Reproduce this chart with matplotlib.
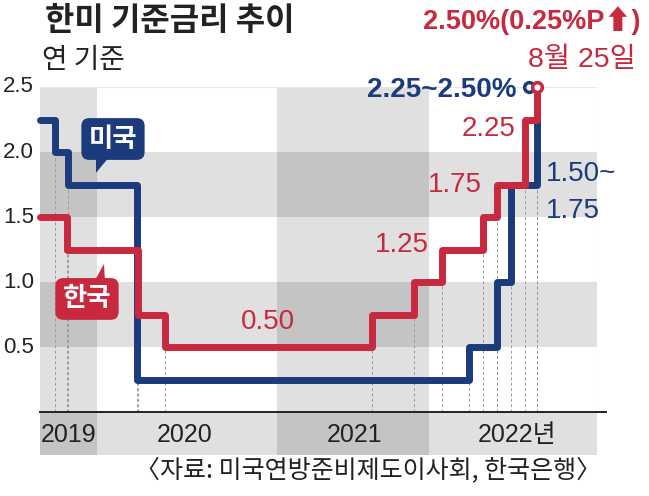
import matplotlib
matplotlib.use('Agg')
import matplotlib.pyplot as plt
from matplotlib import font_manager as fm
from matplotlib.patches import Polygon

# fonts: narrow latin face for numbers if present, CJK face for hangul
installed = {f.name for f in fm.fontManager.ttflist}
NUM = 'Liberation Sans Narrow' if 'Liberation Sans Narrow' in installed else 'Liberation Sans'
KR = 'Noto Sans CJK KR'
MIX = [NUM, KR, 'DejaVu Sans']

NAVY = '#1c3b7c'
RED = '#c8293f'

# x is the chart's own stretched time scale (0 = left edge of plot)
year_labels = ['2019', '2020', '2021', '2022년']
year_edges = [0, 57, 237, 389, 557]
year_label_x = [29, 145, 315, 477]

# US federal funds rate (as drawn)
us_x = [0, 15, 28, 96.5, 429, 457, 471, 497]
us_rate = [2.25, 2.00, 1.75, 0.25, 0.50, 1.00, 1.75, 2.25]
us_marker = (489, 2.50)

# Bank of Korea base rate
kr_x = [0, 27, 98, 125, 332, 374, 402, 443, 457, 485, 497]
kr_rate = [1.50, 1.25, 0.75, 0.50, 0.75, 1.00, 1.25, 1.50, 1.75, 2.25, 2.50]

yticks = [0.5, 1.0, 1.5, 2.0, 2.5]
band_rows = [(0.5, 1.0), (1.5, 2.0), (-0.33, 0.0)]
dark_years = [0, 2]

W, H = 649, 496
fig = plt.figure(figsize=(W / 100, H / 100), dpi=100)
ax = fig.add_axes([40 / W, 41 / H, 557 / W, 368 / H])
ax.set_xlim(year_edges[0], year_edges[-1])
ax.set_ylim(-0.33, 2.5)
ax.axis('off')


def fpos(x, y):
    return x / W, 1 - y / H


# grey bands (overlaps get darker)
for lo, hi in band_rows:
    ax.axhspan(lo, hi, color='k', alpha=0.12, lw=0, zorder=0)
for i in dark_years:
    ax.axvspan(year_edges[i], year_edges[i + 1], color='k', alpha=0.12, lw=0, zorder=0)
ax.plot([0, 557, 557], [2.5, 2.5, 0], color='#e6e6e6', lw=0.8, zorder=0.5)

# dashed guides under each rate change
for xs, rs in [(us_x, us_rate), (kr_x, kr_rate)]:
    for i in range(1, len(xs)):
        ax.vlines(xs[i], 0, min(rs[i - 1], rs[i]), colors='#9a9a9a',
                  linestyles=(0, (3, 2.5)), lw=0.7, zorder=1)

ax.plot([0, 566], [0, 0], color='#222222', lw=1.4, clip_on=False, zorder=2)

# rate lines
ax.step(us_x, us_rate, where='post', color=NAVY, lw=5, solid_joinstyle='round',
        solid_capstyle='round', clip_on=False, zorder=3)
ax.plot(*us_marker, 'o', ms=7, mfc='white', mec=NAVY, mew=2.5, clip_on=False, zorder=3)
ax.step(kr_x, kr_rate, where='post', color=RED, lw=5, solid_joinstyle='round',
        solid_capstyle='round', clip_on=False, zorder=4)
ax.plot(kr_x[-1], kr_rate[-1], 'o', ms=7, mfc='white', mec=RED, mew=2.5,
        clip_on=False, zorder=5)

# y tick labels
for v in yticks:
    ax.text(-6, v, f'{v:.1f}', ha='right', va='center', fontsize=16,
            family=NUM, color='#222222')

# year labels
for lab, x in zip(year_labels, year_label_x):
    ax.text(x, -0.18, lab, ha='center', va='center', fontsize=18,
            family=MIX, color='#222222')

# value labels
ax.text(228, 0.69, '0.50', ha='center', va='center', fontsize=20, family=NUM, color=RED)
ax.text(362, 1.285, '1.25', ha='center', va='center', fontsize=20, family=NUM, color=RED)
ax.text(415, 1.75, '1.75', ha='center', va='center', fontsize=20, family=NUM, color=RED)
ax.text(449, 2.18, '2.25', ha='center', va='center', fontsize=20, family=NUM, color=RED)
ax.text(476, 2.48, '2.25~2.50%', ha='right', va='center', fontsize=20,
        fontweight='bold', family=NUM, color=NAVY, clip_on=False)
ax.text(506, 1.83, '1.50~', ha='left', va='center', fontsize=20, family=NUM,
        color=NAVY, clip_on=False)
ax.text(506, 1.55, '1.75', ha='left', va='center', fontsize=20, family=NUM,
        color=NAVY, clip_on=False)

# country tags with pointers
ax.text(73, 2.10, '미국', ha='center', va='center', fontsize=19, fontweight='bold',
        family=KR, color='white',
        bbox=dict(boxstyle='round,pad=0.28,rounding_size=0.3', fc=NAVY, ec='none'),
        zorder=6)
ax.add_patch(Polygon([(56, 1.96), (69, 1.96), (56, 1.84)], closed=True,
                     fc=NAVY, ec='none', zorder=6))
ax.text(47, 0.87, '한국', ha='center', va='center', fontsize=19, fontweight='bold',
        family=KR, color='white',
        bbox=dict(boxstyle='round,pad=0.28,rounding_size=0.3', fc=RED, ec='none'),
        zorder=6)
ax.add_patch(Polygon([(54, 1.00), (65, 1.00), (64, 1.14)], closed=True,
                     fc=RED, ec='none', zorder=6))

# titles and notes
fig.text(*fpos(45, 21), '한미 기준금리 추이', ha='left', va='center', fontsize=23,
         fontweight='bold', family=KR, color='#222222')
fig.text(*fpos(42, 60), '연 기준', ha='left', va='center', fontsize=20,
         family=KR, color='#222222')
fig.text(*fpos(640, 21), '2.50%(0.25%P⬆)', ha='right', va='center', fontsize=19.5,
         fontweight='bold', family=MIX, color=RED)
fig.text(*fpos(636, 60), '8월 25일', ha='right', va='center', fontsize=20.5,
         family=MIX, color=RED)
fig.text(*fpos(601, 470), '〈자료: 미국연방준비제도이사회, 한국은행〉', ha='right',
         va='center', fontsize=18, family=KR, color='#222222')

fig.savefig('out.png', dpi=100)
